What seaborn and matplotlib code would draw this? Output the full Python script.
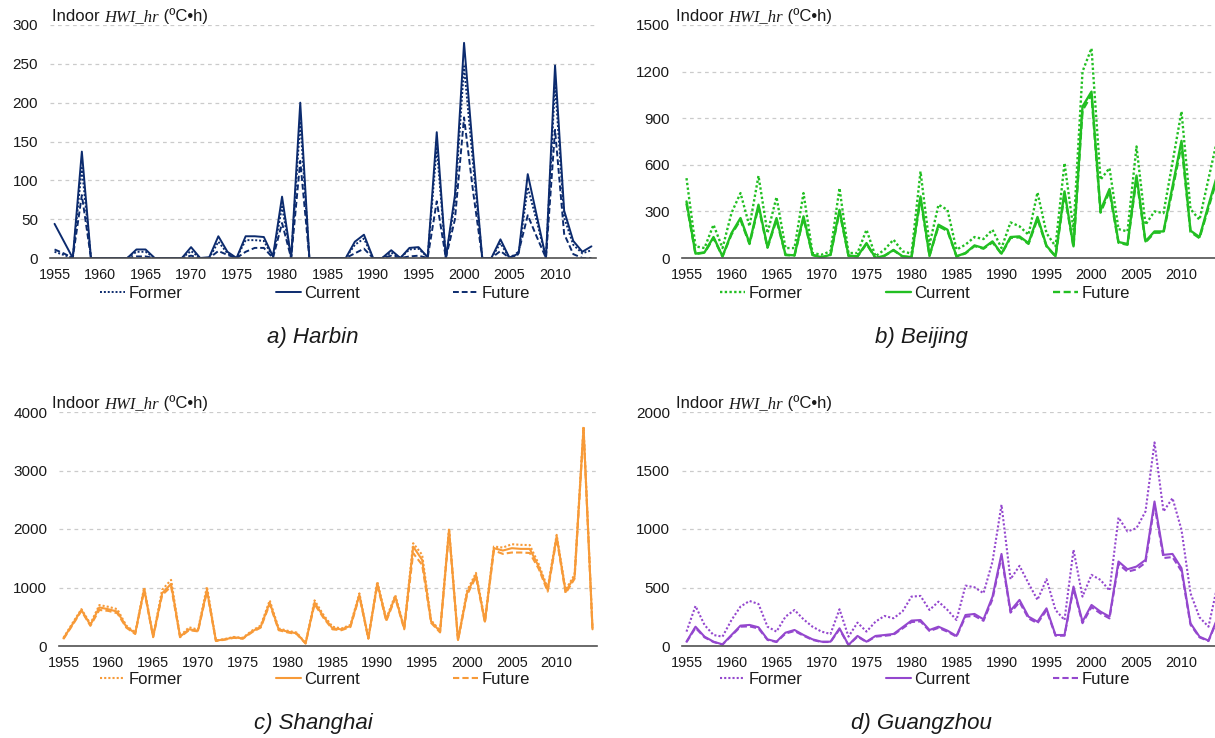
import matplotlib
matplotlib.use("Agg")
import matplotlib.pyplot as plt
import seaborn as sns
import pandas as pd

# ---- data -------------------------------------------------------------
years = list(range(1955, 2015))
tick_years = [1955, 1960, 1965, 1970, 1975, 1980, 1985, 1990, 1995, 2000, 2005, 2010]
series_names = ["Former", "Current", "Future"]

harbin_former = [8, 4, 0, 116, 0, 0, 0, 0, 0, 8, 8, 0, 0, 0, 0, 9, 0, 0, 21, 6,
                 0, 23, 23, 22, 1, 66, 0, 176, 0, 0, 0, 0, 0, 17, 25, 0, 0, 7, 0, 11,
                 12, 1, 143, 0, 72, 247, 120, 0, 0, 19, 0, 5, 91, 47, 0, 224, 52, 17, 6, 10]
harbin_current = [44, 22, 0, 137, 0, 0, 0, 0, 0, 11, 11, 0, 0, 0, 0, 14, 0, 1, 28, 8,
                  0, 28, 28, 27, 2, 79, 0, 200, 0, 0, 0, 0, 0, 21, 30, 0, 0, 10, 0, 13,
                  14, 1, 162, 0, 81, 277, 135, 0, 0, 24, 0, 6, 108, 54, 0, 248, 61, 22, 8, 15]
harbin_future = [11, 6, 0, 81, 0, 0, 0, 0, 0, 2, 2, 0, 0, 0, 0, 3, 0, 0, 9, 4,
                 0, 8, 13, 13, 0, 45, 0, 125, 0, 0, 0, 0, 0, 6, 12, 0, 0, 3, 0, 2,
                 3, 0, 73, 0, 50, 181, 85, 0, 0, 9, 0, 8, 55, 27, 0, 165, 31, 5, 0, 0]

beijing_former = [514, 75, 64, 214, 64, 290, 418, 204, 529, 160, 392, 64, 64, 418, 32, 21, 43, 450, 32, 32,
                  182, 11, 54, 118, 43, 28, 557, 86, 343, 310, 54, 86, 135, 122, 182, 64, 229, 204, 150, 422,
                  160, 75, 611, 182, 1200, 1350, 504, 579, 186, 171, 718, 214, 300, 289, 615, 943, 315, 246, 510, 770]
beijing_current = [364, 28, 36, 135, 11, 160, 257, 96, 343, 70, 257, 21, 17, 268, 21, 4, 21, 310, 15, 11,
                   96, 0, 15, 52, 11, 6, 396, 15, 214, 182, 11, 32, 81, 64, 107, 28, 135, 139, 96, 264,
                   79, 11, 429, 75, 975, 1071, 306, 444, 103, 90, 531, 107, 171, 171, 460, 754, 176, 135, 340, 540]
beijing_future = [350, 26, 34, 128, 10, 152, 246, 90, 330, 66, 246, 19, 16, 257, 19, 4, 19, 298, 14, 10,
                  90, 0, 14, 49, 10, 5, 380, 14, 205, 174, 10, 30, 77, 60, 101, 26, 129, 133, 91, 252,
                  75, 10, 412, 70, 950, 1050, 292, 428, 98, 85, 512, 101, 163, 163, 440, 730, 168, 128, 325, 520]

shanghai_former = [140, 390, 630, 380, 700, 670, 630, 350, 230, 1000, 170, 960, 1130, 170, 320, 280, 1016, 95, 120, 155,
                   140, 260, 350, 780, 300, 260, 230, 50, 780, 530, 330, 300, 360, 900, 140, 1100, 470, 870, 320, 1757,
                   1558, 440, 260, 2010, 110, 940, 1250, 440, 1700, 1683, 1740, 1729, 1725, 1400, 990, 1900, 960, 1220, 3755, 300]
shanghai_current = [131, 370, 616, 360, 660, 628, 588, 331, 217, 976, 160, 902, 1061, 160, 285, 262, 959, 91, 114, 148,
                    131, 245, 331, 742, 285, 245, 217, 46, 742, 502, 302, 285, 342, 873, 131, 1073, 445, 845, 302, 1700,
                    1472, 417, 245, 1986, 103, 902, 1215, 417, 1672, 1632, 1672, 1660, 1660, 1358, 959, 1872, 930, 1187, 3726, 285]
shanghai_future = [120, 355, 600, 345, 616, 600, 560, 315, 205, 950, 150, 870, 1016, 150, 270, 250, 930, 85, 108, 140,
                   124, 232, 315, 715, 270, 232, 205, 42, 715, 480, 285, 270, 325, 845, 124, 1045, 425, 820, 285, 1586,
                   1387, 395, 232, 1950, 98, 870, 1180, 400, 1632, 1575, 1598, 1598, 1590, 1320, 930, 1840, 900, 1150, 3700, 270]

guangzhou_former = [123, 342, 180, 94, 80, 222, 337, 385, 359, 165, 123, 251, 308, 228, 165, 123, 103, 314, 80, 200,
                    123, 208, 257, 237, 295, 422, 428, 308, 379, 308, 222, 516, 502, 451, 722, 1207, 571, 685, 536, 394,
                    571, 308, 222, 822, 422, 608, 565, 474, 1098, 979, 1007, 1150, 1740, 1150, 1264, 993, 451, 245, 165, 520]
guangzhou_current = [37, 165, 80, 37, 14, 94, 174, 180, 160, 57, 37, 114, 137, 94, 57, 37, 37, 151, 9, 86,
                     37, 86, 94, 103, 160, 217, 222, 137, 165, 131, 86, 265, 274, 228, 422, 787, 302, 394, 251, 208,
                     322, 94, 94, 508, 208, 351, 294, 251, 722, 656, 679, 736, 1235, 779, 787, 665, 194, 80, 46, 240]
guangzhou_future = [33, 155, 74, 34, 12, 88, 165, 168, 150, 52, 34, 106, 128, 88, 52, 34, 34, 142, 8, 80,
                    34, 80, 87, 96, 150, 205, 210, 128, 155, 122, 80, 250, 258, 215, 400, 765, 285, 375, 236, 195,
                    305, 88, 88, 490, 195, 332, 278, 236, 700, 635, 655, 712, 1205, 752, 760, 640, 182, 74, 42, 228]

harbin_ticks = [0, 50, 100, 150, 200, 250, 300]
beijing_ticks = [0, 300, 600, 900, 1200, 1500]
shanghai_ticks = [0, 1000, 2000, 3000, 4000]
guangzhou_ticks = [0, 500, 1000, 1500, 2000]

captions = ["a) Harbin", "b) Beijing", "c) Shanghai", "d) Guangzhou"]

# ---- style ------------------------------------------------------------
sns.set_style("white")
SANS = "Liberation Sans"
SERIF = "Liberation Serif"
plt.rcParams["font.family"] = [SANS, "DejaVu Sans"]

W, H = 1215, 738
fig = plt.figure(figsize=(W / 100, H / 100), dpi=100)


def px_axes(left, top, width, height):
    return fig.add_axes([left / W, 1 - (top + height) / H, width / W, height / H])


panels = [
    # values, y ticks, colour, line width, axes box (px), legend x / y, column spacing,
    # caption x / y, title x / baseline
    ((harbin_former, harbin_current, harbin_future), harbin_ticks, "#0C2B6E", 1.4,
     (50, 25, 546, 233), 100, 293.5, 5.6, 313, 343, 52, 21),
    ((beijing_former, beijing_current, beijing_future), beijing_ticks, "#22BF22", 1.7,
     (682, 25, 540, 233), 720, 293.5, 5.0, 921, 343, 676, 21),
    ((shanghai_former, shanghai_current, shanghai_future), shanghai_ticks, "#F79A38", 1.5,
     (59, 412, 538, 234), 100, 679, 5.6, 313, 729, 52, 408),
    ((guangzhou_former, guangzhou_current, guangzhou_future), guangzhou_ticks, "#9447CE", 1.5,
     (682, 412, 540, 234), 720, 679, 5.0, 921, 729, 676, 408),
]

styles = {"Former": (0, (1, 1)), "Current": "-", "Future": (0, (3, 1.5))}

renderer = fig.canvas.get_renderer()

for (vals, ticks, colour, lw, box, leg_x, leg_y, colsp, cap_x, cap_y, tit_x, tit_y), cap in zip(panels, captions):
    ax = px_axes(*box)
    df = pd.DataFrame({"year": years, "Former": vals[0], "Current": vals[1], "Future": vals[2]})
    for name in series_names:
        sns.lineplot(data=df, x="year", y=name, ax=ax, color=colour, lw=lw,
                     linestyle=styles[name], label=name, legend=False)

    ax.set_xlim(1954.5, 2014.5)
    ax.set_ylim(ticks[0], ticks[-1])
    ax.set_yticks(ticks)
    ax.set_yticklabels([str(t) for t in ticks])
    ax.set_xticks(tick_years)
    ax.set_xticklabels([str(y) for y in tick_years])
    ax.set_xlabel("")
    ax.set_ylabel("")
    ax.tick_params(axis="y", length=0, pad=8.5, labelsize=11, colors="#1a1a1a")
    ax.tick_params(axis="x", length=0, pad=7.5, labelsize=10.4, colors="#1a1a1a")
    for s in ("left", "right", "top"):
        ax.spines[s].set_visible(False)
    ax.spines["bottom"].set_color("#505050")
    ax.spines["bottom"].set_linewidth(1.2)
    ax.yaxis.grid(True, color="#CBCBCB", linestyle=(0, (3, 3)), linewidth=0.9)
    ax.xaxis.grid(False)
    ax.set_axisbelow(True)

    handles, labels = ax.get_legend_handles_labels()
    ax.legend(handles, labels, ncol=3, loc="center left",
              bbox_to_anchor=(leg_x / W, 1 - leg_y / H),
              bbox_transform=fig.transFigure, frameon=False, borderpad=0, borderaxespad=0,
              handlelength=1.5, handletextpad=0.2, columnspacing=colsp, fontsize=12,
              labelcolor="#1a1a1a")

    # axis title built from pieces: plain, serif italic, plain
    x = tit_x
    for text, fam, style in (("Indoor ", SANS, "normal"), ("HWI_hr", SERIF, "italic"),
                             (" (ºC•h)", SANS, "normal")):
        t = fig.text(x / W, 1 - tit_y / H, text, family=[fam, "DejaVu Sans"], style=style,
                     fontsize=12, va="baseline", ha="left", color="#1a1a1a")
        x += t.get_window_extent(renderer).width

    fig.text(cap_x / W, 1 - cap_y / H, cap, style="italic", fontsize=16,
             ha="center", va="baseline", color="#1a1a1a")

fig.savefig("out.png", dpi=100)
